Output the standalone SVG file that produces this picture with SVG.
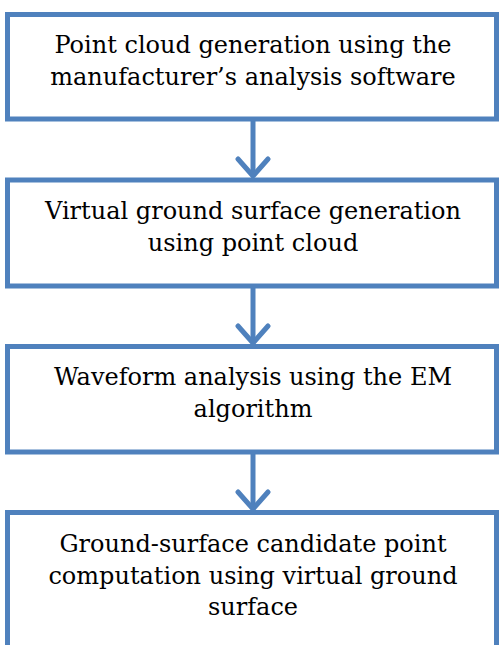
<svg xmlns="http://www.w3.org/2000/svg" width="499" height="645" viewBox="0 0 499 645">
<style>
.box{fill:#fff;stroke:#4F81BD;stroke-width:5}
.t{font-family:"DejaVu Serif","Liberation Serif",serif;font-size:24px;fill:#000;text-anchor:middle}
.c{fill:none;stroke:#4F81BD;stroke-width:5;stroke-linecap:round;stroke-linejoin:round}
</style>
<rect width="499" height="645" fill="#fff"/>
<g id="connectors">
<line class="c" x1="253" y1="121" x2="253" y2="176" style="stroke-linecap:butt"/>
<polyline class="c" points="238,159 253,176 268,159"/>
<line class="c" x1="253" y1="288" x2="253" y2="343" style="stroke-linecap:butt"/>
<polyline class="c" points="238,326 253,343 268,326"/>
<line class="c" x1="253" y1="454" x2="253" y2="509" style="stroke-linecap:butt"/>
<polyline class="c" points="238,492 253,509 268,492"/>
</g>
<g id="node1">
<rect class="box" x="7.5" y="14.5" width="489" height="104.5"/>
<text class="t" x="253" y="53">Point cloud generation using the</text>
<text class="t" x="253" y="85">manufacturer’s analysis software</text>
</g>
<g id="node2">
<rect class="box" x="7.5" y="180" width="489" height="106"/>
<text class="t" x="253" y="219">Virtual ground surface generation</text>
<text class="t" x="253" y="251">using point cloud</text>
</g>
<g id="node3">
<rect class="box" x="7.5" y="346.5" width="489" height="105.5"/>
<text class="t" x="253" y="385">Waveform analysis using the EM</text>
<text class="t" x="253" y="417">algorithm</text>
</g>
<g id="node4">
<rect class="box" x="7.5" y="512.5" width="489" height="150"/>
<text class="t" x="253" y="552">Ground-surface candidate point</text>
<text class="t" x="253" y="584">computation using virtual ground</text>
<text class="t" x="253" y="615">surface</text>
</g>
</svg>
